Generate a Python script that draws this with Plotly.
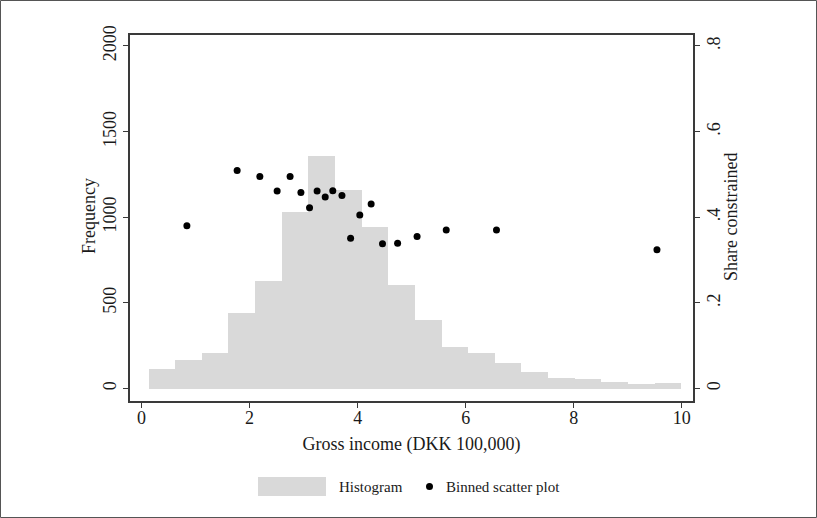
import plotly.graph_objects as go

# ---- data ----
hist_start = 0.13          # left edge of first bin (DKK 100,000)
hist_width = 0.493         # bin width
hist_freq = [115, 168, 205, 439, 627, 1033, 1358, 1158, 943, 605,
             402, 241, 209, 150, 98, 63, 53, 39, 29, 33]

bin_income = [0.84, 1.77, 2.19, 2.51, 2.75, 2.95, 3.11, 3.25, 3.40, 3.54,
              3.71, 3.87, 4.04, 4.25, 4.46, 4.74, 5.10, 5.64, 6.57, 9.54]
bin_share = [0.380, 0.509, 0.495, 0.461, 0.495, 0.458, 0.422, 0.461, 0.447, 0.462,
             0.451, 0.351, 0.405, 0.431, 0.338, 0.339, 0.355, 0.370, 0.370, 0.324]

x_ticks = [0, 2, 4, 6, 8, 10]
freq_ticks = [0, 500, 1000, 1500, 2000]
share_ticks = [0, 0.2, 0.4, 0.6, 0.8]
share_tick_text = ["0", ".2", ".4", ".6", ".8"]

# ---- styling ----
FONT = "Liberation Serif"
AXIS_COL = "#3a3a3a"
BAR_COL = "#d9d9d9"
TXT = "#1a1a1a"

centers = [hist_start + hist_width * (i + 0.5) for i in range(len(hist_freq))]

fig = go.Figure()
fig.add_trace(go.Bar(x=centers, y=hist_freq, width=hist_width,
                     marker=dict(color=BAR_COL, line=dict(width=0)),
                     name="Histogram", showlegend=False, yaxis="y"))
fig.add_trace(go.Scatter(x=bin_income, y=bin_share, mode="markers",
                         marker=dict(color="black", size=7),
                         name="Binned scatter plot", showlegend=False, yaxis="y2"))

ax_common = dict(showline=True, linecolor=AXIS_COL, linewidth=1.5,
                 ticks="outside", ticklen=5, tickwidth=1.3, tickcolor=AXIS_COL,
                 showgrid=False, zeroline=False,
                 tickfont=dict(family=FONT, size=18, color=TXT))

fig.update_layout(
    width=817, height=518,
    margin=dict(l=130, r=124, t=35, b=117),
    paper_bgcolor="white", plot_bgcolor="white",
    bargap=0,
    xaxis=dict(range=[-0.213, 10.207], tickvals=x_ticks, mirror=True,
               ticklabelstandoff=-5,
               title=dict(text="Gross income (DKK 100,000)",
                          font=dict(family=FONT, size=18, color=TXT), standoff=10),
               **ax_common),
    yaxis=dict(range=[-73, 2064], tickvals=freq_ticks, tickangle=-90,
               **ax_common),
    yaxis2=dict(range=[-73 / 2500, 2064 / 2500], tickvals=share_ticks,
                ticktext=share_tick_text, tickangle=-90, overlaying="y", side="right",
                ticklabelstandoff=-1,
                **ax_common),
)

# pixel -> paper helpers (plot area spans x 130..693, y 35..401)
px_w, px_h = 563, 366
def xp(px):
    return (px - 130) / px_w
def yp(py):
    return (401 - py) / px_h

# y-axis titles
fig.add_annotation(text="Frequency", xref="paper", yref="paper",
                   x=xp(89), y=yp(216), textangle=-90, showarrow=False,
                   xanchor="center", yanchor="middle",
                   font=dict(family=FONT, size=18, color=TXT))
fig.add_annotation(text="Share constrained", xref="paper", yref="paper",
                   x=xp(731), y=yp(217), textangle=-90, showarrow=False,
                   xanchor="center", yanchor="middle",
                   font=dict(family=FONT, size=18, color=TXT))

# manual legend below plot
fig.add_shape(type="rect", xref="paper", yref="paper",
              x0=xp(258), x1=xp(326), y0=yp(496), y1=yp(477),
              fillcolor=BAR_COL, line=dict(width=0))
fig.add_annotation(text="Histogram", xref="paper", yref="paper",
                   x=xp(337), y=yp(486.5), xanchor="left", yanchor="middle",
                   showarrow=False, font=dict(family=FONT, size=15, color=TXT))
fig.add_shape(type="circle", xref="paper", yref="paper",
              x0=xp(426), x1=xp(433), y0=yp(490), y1=yp(483),
              fillcolor="black", line=dict(width=0))
fig.add_annotation(text="Binned scatter plot", xref="paper", yref="paper",
                   x=xp(444), y=yp(486.5), xanchor="left", yanchor="middle",
                   showarrow=False, font=dict(family=FONT, size=15, color=TXT))

# outer frame of the image
fig.add_shape(type="rect", xref="paper", yref="paper",
              x0=xp(0.5), x1=xp(816.5), y0=yp(517.5), y1=yp(0.5),
              line=dict(color="#555", width=1), fillcolor="rgba(0,0,0,0)", layer="below")

fig.write_html("out.html", config={"displayModeBar": False},
               post_script="document.body.style.margin='0';")
